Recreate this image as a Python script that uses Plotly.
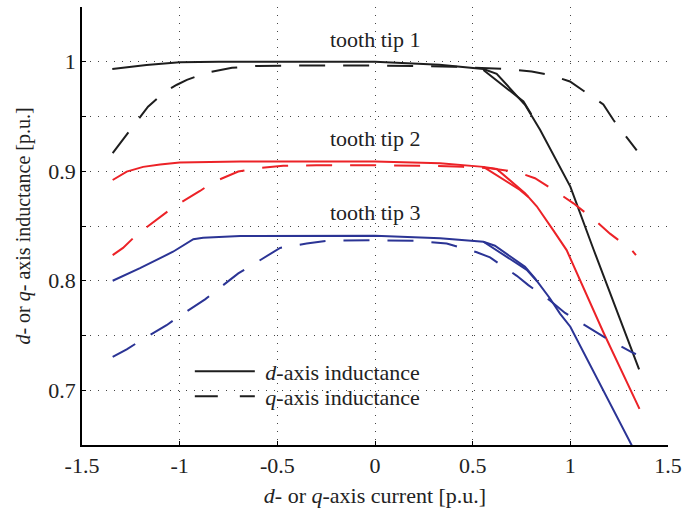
import plotly.graph_objects as go

# ---- data ----
d1_x = [-1.345, -1.17, -1.0, -0.8, -0.5, 0.0, 0.33, 0.555, 0.623, 0.768, 0.845, 1.0, 1.118, 1.352]
d1_y = [0.9933, 0.997, 0.9995, 1.0, 1.0, 1.0, 0.9973, 0.9933, 0.989, 0.9607, 0.9378, 0.886, 0.829, 0.719]
d1b_x = [0.555, 0.76, 0.80]
d1b_y = [0.9925, 0.9637, 0.952]

q1_x = [-1.343, -1.239, -1.162, -1.075, -1.014, -0.963, -0.86, -0.732, -0.6, -0.4, 0.0, 0.4, 0.563,
        0.674, 0.802, 0.896, 0.998, 1.118, 1.169, 1.22, 1.34]
q1_y = [0.9165, 0.941, 0.959, 0.9726, 0.979, 0.9835, 0.990, 0.9945, 0.9962, 0.9966, 0.9966, 0.9955,
        0.9942, 0.9933, 0.991, 0.988, 0.982, 0.967, 0.961, 0.947, 0.919]

d2_x = [-1.343, -1.271, -1.187, -1.1, -1.0, -0.69, 0.0, 0.333, 0.555, 0.623, 0.768, 0.828, 0.913,
        0.981, 1.169, 1.354]
d2_y = [0.892, 0.8997, 0.904, 0.9062, 0.9079, 0.9088, 0.9088, 0.9073, 0.904, 0.902, 0.880, 0.868,
        0.846, 0.828, 0.753, 0.683]
d2b_x = [0.555, 0.742, 0.785]
d2b_y = [0.904, 0.883, 0.8766]

q2_x = [-1.343, -1.29, -1.22, -1.11, -1.034, -0.896, -0.829, -0.70, -0.606, -0.47, -0.3, 0.0, 0.3,
        0.45, 0.589, 0.734, 0.819, 0.939, 1.016, 1.135, 1.203, 1.314, 1.336]
q2_y = [0.8234, 0.83, 0.842, 0.857, 0.867, 0.882, 0.890, 0.8997, 0.9027, 0.905, 0.9055, 0.9055,
        0.905, 0.904, 0.9027, 0.899, 0.8936, 0.880, 0.8707, 0.854, 0.843, 0.828, 0.8234]

d3_x = [-1.343, -1.203, -1.034, -0.93, -0.88, -0.69, 0.0, 0.333, 0.555, 0.614, 0.768, 0.819, 0.896,
        0.947, 1.0, 1.314, 1.36]
d3_y = [0.800, 0.8115, 0.8265, 0.838, 0.8393, 0.8408, 0.841, 0.8387, 0.8356, 0.832, 0.8127, 0.8021,
        0.7838, 0.770, 0.758, 0.6496, 0.634]
d3b_x = [0.555, 0.777, 0.83]
d3b_y = [0.8356, 0.810, 0.7995]

q3_x = [-1.343, -1.271, -1.212, -1.067, -1.007, -0.87, -0.81, -0.70, -0.6, -0.486, -0.35, -0.24, 0.0,
        0.2, 0.367, 0.521, 0.589, 0.726, 0.785, 0.896, 0.973, 1.118, 1.178, 1.323, 1.336]
q3_y = [0.7304, 0.7374, 0.744, 0.7594, 0.767, 0.783, 0.7914, 0.8067, 0.8175, 0.83, 0.834, 0.8365,
        0.837, 0.8365, 0.834, 0.826, 0.8213, 0.8045, 0.796, 0.782, 0.7706, 0.755, 0.748, 0.734, 0.733]

x_ticks = [-1.5, -1.0, -0.5, 0.0, 0.5, 1.0, 1.5]
x_ticktext = ["-1.5", "-1", "-0.5", "0", "0.5", "1", "1.5"]
y_ticks = [0.65, 0.7, 0.75, 0.8, 0.85, 0.9, 0.95, 1.0, 1.05]
y_ticktext = ["", "0.7", "", "0.8", "", "0.9", "", "1", ""]

labels = ["tooth tip 1", "tooth tip 2", "tooth tip 3"]
label_x = [0.0, 0.0, 0.0]
label_y = [1.020, 0.930, 0.862]

BLACK = "#1e1e1e"
RED = "#ec2227"
BLUE = "#2b3495"
DASH = "26px,18px"
FONT = "Liberation Serif"
TXT = "#222"

fig = go.Figure()

def add(x, y, color, dash="solid"):
    fig.add_trace(go.Scatter(x=x, y=y, mode="lines", showlegend=False, hoverinfo="skip",
                             line=dict(color=color, width=2, dash=dash)))

add(d1_x, d1_y, BLACK); add(d1b_x, d1b_y, BLACK); add(q1_x, q1_y, BLACK, DASH)
add(d2_x, d2_y, RED); add(d2b_x, d2b_y, RED); add(q2_x, q2_y, RED, DASH)
add(d3_x, d3_y, BLUE); add(d3b_x, d3b_y, BLUE); add(q3_x, q3_y, BLUE, DASH)

fig.add_trace(go.Scatter(x=[None], y=[None], mode="lines", name="&nbsp;<i>d</i>-axis inductance",
                         line=dict(color=BLACK, width=2), legend="legend"))
fig.add_trace(go.Scatter(x=[None], y=[None], mode="lines", name="&nbsp;<i>q</i>-axis inductance",
                         line=dict(color=BLACK, width=2, dash="23px,22px"), legend="legend2"))

for t, xx, yy in zip(labels, label_x, label_y):
    fig.add_annotation(x=xx, y=yy, text=t, showarrow=False, font=dict(family=FONT, size=22, color=TXT))

grid = dict(showgrid=True, gridcolor="#444", gridwidth=1, griddash="1px,7px")

fig.update_xaxes(range=[-1.5, 1.5], tickvals=x_ticks, ticktext=x_ticktext,
                 showline=True, linecolor="black", linewidth=1.5, zeroline=False,
                 ticks="inside", ticklen=4, tickcolor="black", automargin=False,
                 tickfont=dict(family=FONT, size=22, color=TXT),
                 title=dict(text="<i>d</i>- or <i>q</i>-axis current [p.u.]",
                            font=dict(family=FONT, size=22, color=TXT)),
                 **grid)
fig.update_yaxes(range=[0.65, 1.05], tickvals=y_ticks, ticktext=y_ticktext,
                 showline=True, linecolor="black", linewidth=1.5, zeroline=False,
                 ticks="inside", ticklen=4, tickcolor="black", automargin=False,
                 tickfont=dict(family=FONT, size=22, color=TXT),
                 title=dict(text="<i>d</i>- or <i>q</i>- axis inductance [p.u.]",
                            font=dict(family=FONT, size=20, color=TXT), standoff=12),
                 **grid)

leg = dict(xanchor="left", yanchor="top", bgcolor="rgba(0,0,0,0)",
           font=dict(family=FONT, size=22, color=TXT), itemwidth=60)
fig.update_layout(
    width=685, height=508,
    margin=dict(l=82, r=17, t=7, b=63, autoexpand=False),
    plot_bgcolor="white", paper_bgcolor="white",
    font=dict(family=FONT, size=22, color=TXT),
    legend=dict(x=0.184, y=0.216, **leg),
    legend2=dict(x=0.184, y=0.159, **leg),
)

fig.write_html("out.html")
